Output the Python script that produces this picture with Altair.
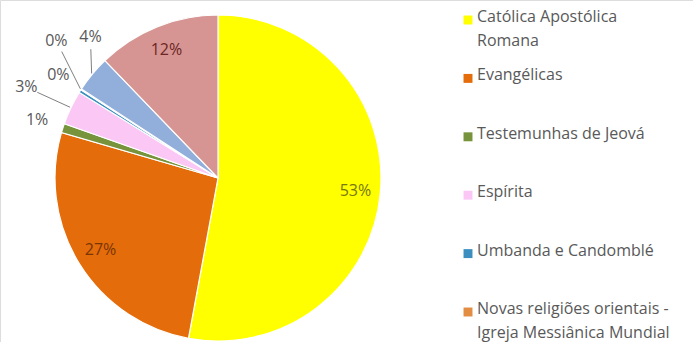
import math
import altair as alt
import pandas as pd

# ---- data -------------------------------------------------------------
categories = [
    "Católica Apostólica Romana",
    "Evangélicas",
    "Testemunhas de Jeová",
    "Espírita",
    "Umbanda e Candomblé",
    "Novas religiões orientais - Igreja Messiânica Mundial",
    "Outras religiosidades",
    "Sem religião",
]
values = [52.9, 26.6, 0.9, 3.4, 0.3, 0.1, 3.6, 12.2]

legend_labels = [
    "Católica Apostólica\nRomana",
    "Evangélicas",
    "Testemunhas de Jeová",
    "Espírita",
    "Umbanda e Candomblé",
    "Novas religiões orientais -\nIgreja Messiânica Mundial",
]

# ---- styles -----------------------------------------------------------
colors = ["#FFFF00", "#E46C0A", "#77933C", "#FBC8F6",
          "#3B8FBF", "#E38D43", "#92AEDA", "#D69592"]
label_colors = ["#77770A", "#7A3405", "#4B5E26", "#8A4F86",
                "#1F4E6B", "#7A4A20", "#3E587F", "#6B2525"]

CX, CY, R = 218, 178, 163
R_IN = 138          # inside label radius
R_OUT_A, R_OUT_B = 190, 212   # outside label radii (alternating)
STEP = 7.5 * math.pi / 180    # spacing between outside labels
FONT = "Open Sans"
TXT = "#595959"

df = pd.DataFrame({"category": categories, "value": values,
                   "idx": list(range(len(categories)))})
leg_df = pd.DataFrame({"category": categories[:6], "label": legend_labels})

base = (
    alt.Chart(df)
    .transform_joinaggregate(total="sum(value)")
    .transform_window(cum="sum(value)", sort=[alt.SortField("idx")], frame=[None, 0])
    .transform_calculate(
        mid="2*PI*(datum.cum - datum.value/2)/datum.total",
        share="datum.value/datum.total",
        pct="format(datum.value/datum.total, '.0%')",
    )
)

pie = alt.Chart(df).mark_arc(outerRadius=R, stroke="white", strokeWidth=1.2).encode(
    theta=alt.Theta("value:Q", stack=True),
    order=alt.Order("idx:Q", sort="ascending"),
    color=alt.Color("category:N", scale=alt.Scale(domain=categories, range=colors), legend=None),
    x=alt.value(CX),
    y=alt.value(CY),
)

inside = (
    base.transform_filter("datum.share >= 0.05")
    .transform_calculate(
        lx=f"{CX} + {R_IN}*sin(datum.mid)",
        ly=f"{CY} - {R_IN}*cos(datum.mid)",
    )
    .mark_text(font=FONT, fontSize=16, align="center", baseline="middle")
    .encode(
        x=alt.X("lx:Q", scale=None),
        y=alt.Y("ly:Q", scale=None),
        text="pct:N",
        color=alt.Color("category:N", scale=alt.Scale(domain=categories, range=label_colors), legend=None),
    )
)

outside_base = (
    base.transform_filter("datum.share < 0.05")
    .transform_window(rank="row_number()", sort=[alt.SortField("idx")])
    .transform_joinaggregate(mid0="min(mid)")
    .transform_calculate(
        ang=f"datum.mid0 + (datum.rank-1)*{STEP}",
        rad=f"(datum.rank-1) % 2 == 1 ? {R_OUT_B} : {R_OUT_A}",
    )
    .transform_calculate(
        lx=f"{CX} + datum.rad*sin(datum.ang)",
        ly=f"{CY} - datum.rad*cos(datum.ang)",
        sx=f"{CX} + {R + 1}*sin(datum.mid)",
        sy=f"{CY} - {R + 1}*cos(datum.mid)",
    )
)

outside = outside_base.mark_text(
    font=FONT, fontSize=16, align="center", baseline="middle", color=TXT
).encode(
    x=alt.X("lx:Q", scale=None),
    y=alt.Y("ly:Q", scale=None),
    text="pct:N",
)

leaders = (
    outside_base.transform_filter(
        f"datum.rad == {R_OUT_B} || abs(datum.ang - datum.mid) > 0.05"
    )
    .transform_calculate(
        d="sqrt(pow(datum.sx-datum.lx,2)+pow(datum.sy-datum.ly,2))"
    )
    .transform_calculate(
        x0="datum.lx + (datum.sx-datum.lx)/datum.d*12",
        y0="datum.ly + (datum.sy-datum.ly)/datum.d*12",
    )
    .mark_rule(color="#7F7F7F", strokeWidth=1)
    .encode(
        x=alt.X("x0:Q", scale=None),
        y=alt.Y("y0:Q", scale=None),
        x2="sx:Q",
        y2="sy:Q",
    )
)

leg_y = alt.Y("category:N", sort=categories[:6],
              scale=alt.Scale(type="point", range=[20, 312], padding=0), axis=None)

leg_sym = alt.Chart(leg_df).mark_square(size=80, opacity=1).encode(
    x=alt.value(468),
    y=leg_y,
    color=alt.Color("category:N", scale=alt.Scale(domain=categories, range=colors), legend=None),
)

leg_txt = alt.Chart(leg_df).mark_text(
    font=FONT, fontSize=16, align="left", baseline="top", dy=-11,
    lineBreak="\n", lineHeight=24, color=TXT,
).encode(
    x=alt.value(477),
    y=leg_y,
    text="label:N",
)

chart = (
    alt.layer(pie, inside, leaders, outside, leg_sym, leg_txt)
    .resolve_scale(color="independent", x="independent", y="independent")
    .properties(width=693, height=342, autosize=alt.AutoSizeParams(type="none"), padding=0)
    .configure_view(stroke=None)
    .configure(background="white")
)

chart.save("out.html", embed_options={"renderer": "svg", "actions": False})
